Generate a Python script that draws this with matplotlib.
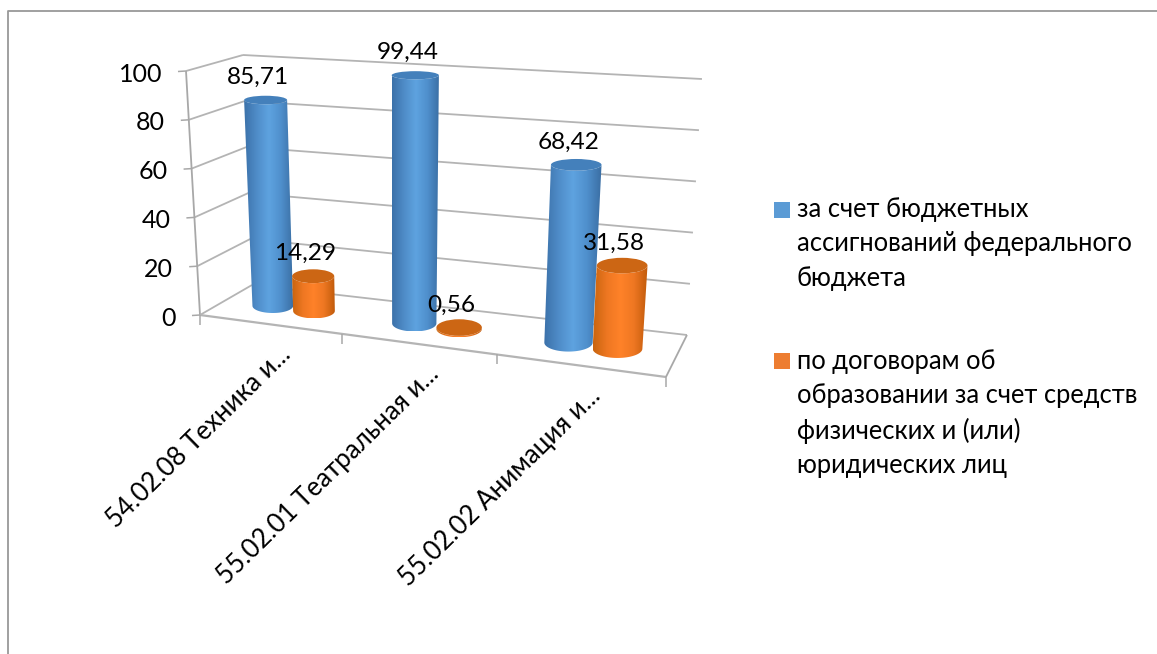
import numpy as np
import matplotlib
matplotlib.use("Agg")
import matplotlib.pyplot as plt
from matplotlib.path import Path
from matplotlib.patches import PathPatch, Rectangle, Ellipse
from matplotlib.colors import LinearSegmentedColormap

plt.rcParams['font.family'] = ['Lato', 'Open Sans', 'DejaVu Sans']

# ---- data ----
categories = ["54.02.08 Техника и...", "55.02.01 Театральная и...", "55.02.02 Анимация и..."]
budget_values = [85.71, 99.44, 68.42]
contract_values = [14.29, 0.56, 31.58]
budget_labels = ["85,71", "99,44", "68,42"]
contract_labels = ["14,29", "0,56", "31,58"]
y_ticks = [0, 20, 40, 60, 80, 100]
legend_budget = "за счет бюджетных\nассигнований федерального\nбюджета"
legend_contract = "по договорам об\nобразовании за счет средств\nфизических и (или)\nюридических лиц"

# ---- 3D box layout (pixel corners of the projected plot box) ----
FL0, FR0, BL0, BR0 = (200, 315), (666, 377), (252, 285), (687, 335)
FL1, FR1, BL1, BR1 = (186, 71), (688, 99), (243, 55), (702, 79)
PERSP_A, PERSP_B = 0.2925, -0.0408
YMAX = 100.0
BAR_HALF = 0.15
BAR_OFFSET = 0.15
BAR_DEPTH = 0.5
CAP_DEPTH = 0.23


def project(t, w, v):
    """category position t, depth w (0 front, 1 back), value v -> figure pixels"""
    u = PERSP_A * t / (1 + PERSP_B * t)
    h = v / YMAX
    def lerp(a, b, f):
        return np.asarray(a, float) + (np.asarray(b, float) - np.asarray(a, float)) * f
    base = lerp(lerp(FL0, FR0, u), lerp(BL0, BR0, u), w)
    top = lerp(lerp(FL1, FR1, u), lerp(BL1, BR1, u), w)
    return lerp(base, top, h)


fig = plt.figure(figsize=(11.57, 6.54), dpi=100, facecolor='white')
ax = fig.add_axes([0, 0, 1, 1])
ax.set_xlim(0, 1157)
ax.set_ylim(654, 0)
ax.axis('off')

GRID = '#b4b4b4'
AXIS = '#a8a8a8'
TXT = '#000000'
NCAT = len(categories)


def seg(a, b, color=GRID, lw=1.3, z=1):
    ax.plot([a[0], b[0]], [a[1], b[1]], color=color, lw=lw, zorder=z, solid_capstyle='butt')


# outer frame
ax.plot([7.5, 7.5, 1157], [654, 10.5, 10.5], color='#999999', lw=1.3, zorder=0)

# walls & gridlines
for v in y_ticks:
    fl, bl, br = project(0, 0, v), project(0, 1, v), project(NCAT, 1, v)
    seg(fl, bl)
    seg(bl, br)
    seg(fl, fl + np.array([-8, 0.5]), AXIS, 1.1)
    ax.text(fl[0] - 24, fl[1] + 3, str(v), ha='right', va='center', fontsize=18, color=TXT, zorder=6)

# left axis, floor
seg(project(0, 0, 0), project(0, 0, 100), AXIS, 1.3)
seg(project(0, 0, 0), project(NCAT, 0, 0), GRID, 1.6)
seg(project(NCAT, 0, 0), project(NCAT, 1, 0), AXIS, 1.3)
for i in range(NCAT + 1):
    p = project(i, 0, 0)
    seg(p, p + np.array([0, 10]), AXIS, 1.1)

# category labels
for i, name in enumerate(categories):
    p = project(i + 0.5, 0, 0)
    ax.text(p[0] + 17, p[1] + 26, name, rotation=44.5, rotation_mode='anchor',
            ha='right', va='center', fontsize=18.6, color=TXT, zorder=6)

blue_cmap = LinearSegmentedColormap.from_list('b', ['#3c72aa', '#4f8cc8', '#5ea3e0', '#4f8fcc', '#3a6ea3'])
orange_cmap = LinearSegmentedColormap.from_list('o', ['#c9650f', '#ee7722', '#ff8229', '#ee7722', '#c25c0c'])


def cylinder(t, value, cmap, cap_color, z):
    lb, rb = project(t - BAR_HALF, BAR_DEPTH, 0), project(t + BAR_HALF, BAR_DEPTH, 0)
    lt, rt = project(t - BAR_HALF, BAR_DEPTH, value), project(t + BAR_HALF, BAR_DEPTH, value)
    cb, ct = project(t, BAR_DEPTH, 0), project(t, BAR_DEPTH, value)
    hb = (project(t, BAR_DEPTH - CAP_DEPTH, 0) - project(t, BAR_DEPTH + CAP_DEPTH, 0))[1]
    ht = (project(t, BAR_DEPTH - CAP_DEPTH, value) - project(t, BAR_DEPTH + CAP_DEPTH, value))[1]
    ang = np.linspace(np.pi, 0, 40)
    rbx = (rb[0] - lb[0]) / 2
    rtx = (rt[0] - lt[0]) / 2
    bottom = np.column_stack([cb[0] + rbx * np.cos(ang), cb[1] + hb / 2 * np.sin(ang)])
    top = np.column_stack([ct[0] - rtx * np.cos(ang), ct[1] + ht / 2 * np.sin(ang)])
    verts = np.vstack([bottom, top, bottom[:1]])
    patch = PathPatch(Path(verts), transform=ax.transData, facecolor='none', edgecolor='none')
    ax.add_patch(patch)
    x0 = min(cb[0] - rbx, ct[0] - rtx)
    x1 = max(cb[0] + rbx, ct[0] + rtx)
    y0 = ct[1] - ht / 2
    y1 = cb[1] + hb / 2
    im = ax.imshow(np.linspace(0, 1, 64).reshape(1, -1), cmap=cmap, extent=[x0, x1, y1, y0],
                   aspect='auto', zorder=z, interpolation='bilinear')
    im.set_clip_path(patch)
    ax.add_patch(Ellipse(ct, 2 * rtx, ht, facecolor=cap_color, edgecolor='none', zorder=z + 0.1))
    return ct


tops = []
for i in range(NCAT):
    tops.append((cylinder(i + 0.5 - BAR_OFFSET, budget_values[i], blue_cmap, '#4480bb', 3), budget_labels[i]))
    tops.append((cylinder(i + 0.5 + BAR_OFFSET, contract_values[i], orange_cmap, '#cc6614', 3.2), contract_labels[i]))

for c, s in tops:
    ax.text(c[0] - 8, c[1] - 22.5, s, ha='center', va='center', fontsize=17.6, color=TXT, zorder=7)

ax.set_xlim(0, 1157)
ax.set_ylim(654, 0)

# legend
ax.add_patch(Rectangle((774, 202), 16, 16, facecolor='#5b9bd5', edgecolor='none', zorder=6))
ax.add_patch(Rectangle((774, 353), 16, 16, facecolor='#ed7d31', edgecolor='none', zorder=6))
ax.text(797, 244, legend_budget, ha='left', va='center', fontsize=18.4, color=TXT, linespacing=1.46, zorder=6)
ax.text(797, 413.5, legend_contract, ha='left', va='center', fontsize=18.4, color=TXT, linespacing=1.46, zorder=6)

fig.savefig('out.png', dpi=100, facecolor='white')
